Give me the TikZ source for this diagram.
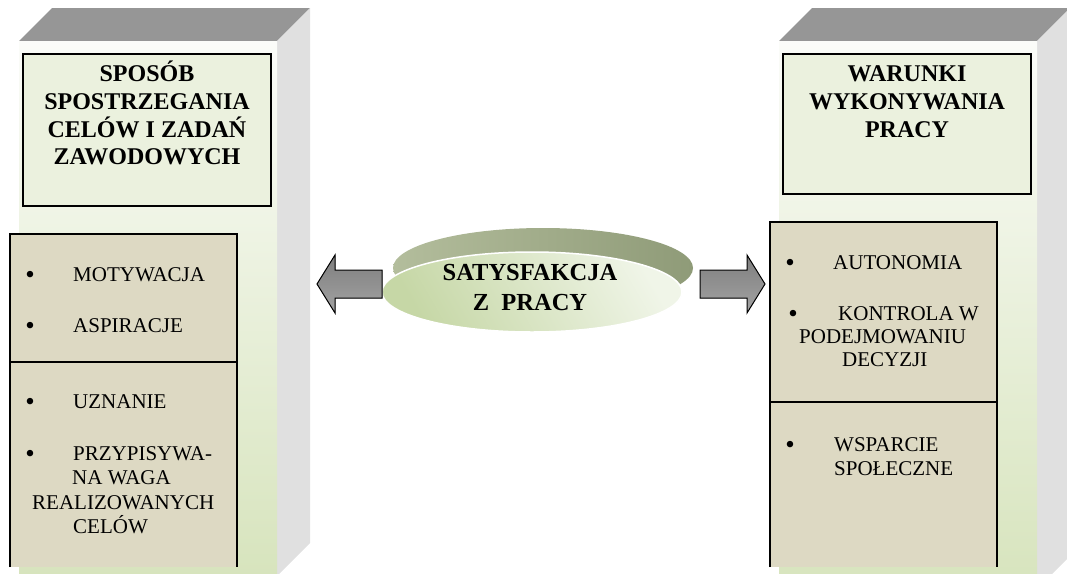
\documentclass[tikz,border=0pt]{standalone}
\usepackage{fontspec}
\setmainfont{Liberation Serif}
\usetikzlibrary{shapes.geometric}

\definecolor{topface}{HTML}{969696}
\definecolor{sideface}{HTML}{E0E0E0}
\definecolor{facetop}{HTML}{FBFCF9}
\definecolor{facemid}{HTML}{EEF3E4}
\definecolor{facebot}{HTML}{D7E4BD}
\definecolor{titlefill}{HTML}{EBF1DE}
\definecolor{listfill}{HTML}{DDD9C3}
\definecolor{ovalback}{HTML}{B3BD9C}
\definecolor{ovalbackdark}{HTML}{8F9B78}
\definecolor{ovaldark}{HTML}{C6D7A6}
\definecolor{ovallight}{HTML}{F0F5E8}
\definecolor{arrowdark}{HTML}{7E7E7E}
\definecolor{arrowlight}{HTML}{A3A3A3}

\tikzset{
  titlebox/.style={draw=black, line width=2pt, fill=titlefill, inner sep=0pt},
  listline/.style={draw=black, line width=1.5pt},
  head/.style={font=\bfseries\fontsize{24}{28}\selectfont, inner sep=0pt, anchor=base},
  bigtext/.style={font=\bfseries\fontsize{24.5}{29}\selectfont, inner sep=0pt, anchor=base},
  item/.style={font=\fontsize{21}{24}\selectfont, inner sep=0pt, anchor=base west},
  bul/.style={font=\fontsize{27}{24}\selectfont, inner sep=0pt, anchor=base},
  blockarrow/.style={draw=black, line width=1pt, top color=arrowdark, bottom color=arrowlight},
}

\begin{document}
\begin{tikzpicture}[x=1pt, y=-1pt]
\useasboundingbox (0,0) rectangle (1067,573);
\clip (0,0) rectangle (1067,573);

% ---------- left block ----------
\fill[topface] (19,41) -- (277,41) -- (310,8) -- (52,8) -- cycle;
\fill[sideface] (277,41) -- (310,8) -- (310,543) -- (277,576) -- cycle;
\shade[top color=facetop, middle color=facemid, bottom color=facebot] (19,41) rectangle (277,576);

\node[titlebox, minimum width=248pt, minimum height=152pt] (ltitle) at (147,130) {};
\node[head] (lt1) at (147,81) {SPOSÓB};
\node[head] (lt2) at (147,109) {SPOSTRZEGANIA};
\node[head] (lt3) at (147,137) {CELÓW I ZADAŃ};
\node[head] (lt4) at (147,164) {ZAWODOWYCH};

\fill[listfill] (10,234) rectangle (237,567);
\draw[listline] (10,567) -- (10,234) -- (237,234) -- (237,567);
\draw[listline] (10,362) -- (237,362);

\node[bul] (lb1) at (30,283) {•};
\node[item] (li1) at (73,281) {MOTYWACJA};
\node[bul] (lb2) at (30,334) {•};
\node[item] (li2) at (73,332) {ASPIRACJE};
\node[bul] (lb3) at (30,410) {•};
\node[item] (li3) at (73,408) {UZNANIE};
\node[bul] (lb4) at (30,462) {•};
\node[item] (li4a) at (73,460) {PRZYPISYWA-};
\node[item] (li4b) at (72,484) {NA WAGA};
\node[item] (li4c) at (32,509) {REALIZOWANYCH};
\node[item] (li4d) at (73,533) {CELÓW};

% ---------- right block ----------
\fill[topface] (779,41) -- (1037,41) -- (1070,8) -- (812,8) -- cycle;
\fill[sideface] (1037,41) -- (1070,8) -- (1070,556) -- (1037,589) -- cycle;
\shade[top color=facetop, middle color=facemid, bottom color=facebot] (779,41) rectangle (1037,589);

\node[titlebox, minimum width=248pt, minimum height=140pt] (rtitle) at (907,124) {};
\node[head] (rt1) at (907,81) {WARUNKI};
\node[head] (rt2) at (907,109) {WYKONYWANIA};
\node[head] (rt3) at (907,137) {PRACY};

\fill[listfill] (770,222) rectangle (997,567);
\draw[listline] (770,567) -- (770,222) -- (997,222) -- (997,567);
\draw[listline] (770,402) -- (997,402);

\node[bul] (rb1) at (790,271) {•};
\node[item] (ri1) at (833,269) {AUTONOMIA};
\node[bul] (rb2) at (793,322) {•};
\node[item] (ri2a) at (838,320) {KONTROLA W};
\node[item] (ri2b) at (799,343) {PODEJMOWANIU};
\node[item] (ri2c) at (842,366) {DECYZJI};
\node[bul] (rb3) at (790,453) {•};
\node[item] (ri3a) at (834,451) {WSPARCIE};
\node[item] (ri3b) at (834,475) {SPOŁECZNE};

% ---------- central oval ----------
\node[ellipse, minimum width=300pt, minimum height=80pt, inner sep=0pt,
      left color=ovalback, right color=ovalbackdark] (satback) at (543,268) {};
\node[ellipse, minimum width=300pt, minimum height=80pt, inner sep=0pt,
      draw=white, line width=1.5pt,
      left color=ovaldark, right color=ovallight, shading angle=120] (sat) at (532,292) {};
\node[bigtext] (sat1) at (530,280) {SATYSFAKCJA};
\node[bigtext] (sat2) at (530,310) {Z\ \ PRACY};

% ---------- block arrows ----------
\filldraw[blockarrow] (317,284) -- (335,255) -- (335,270) -- (382,270) -- (382,298)
  -- (335,298) -- (335,313) -- cycle;
\filldraw[blockarrow] (765,284) -- (747,255) -- (747,270) -- (700,270) -- (700,298)
  -- (747,298) -- (747,313) -- cycle;
\end{tikzpicture}
\end{document}
